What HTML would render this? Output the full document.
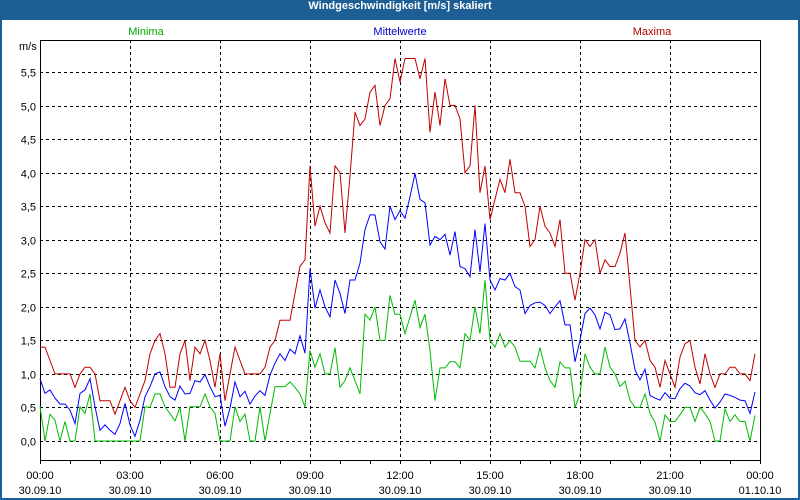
<!DOCTYPE html>
<html><head><meta charset="utf-8"><style>
html,body{margin:0;padding:0;background:#fff}
#wrap{position:relative;width:800px;height:500px;overflow:hidden;background:#1d5f95}
#inner{position:absolute;left:2px;top:20px;width:796px;height:478px;background:#fff}
#title{position:absolute;left:0;top:0;width:800px;height:20px;line-height:20px;text-align:center;color:#fff;font:bold 11px "Liberation Sans",sans-serif}
svg{position:absolute;left:0;top:0}
text{font-family:"Liberation Sans",sans-serif;font-size:11px}
</style></head><body>
<div id="wrap">
<div id="title">Windgeschwindigkeit [m/s] skaliert</div>
<div id="inner"></div>
<svg id="chart" width="800" height="500"></svg>
</div>
<script>
const yTicks=[0,0.5,1,1.5,2,2.5,3,3.5,4,4.5,5,5.5];
const xTickTimes=["00:00","03:00","06:00","09:00","12:00","15:00","18:00","21:00","00:00"];
const xTickDates=["30.09.10","30.09.10","30.09.10","30.09.10","30.09.10","30.09.10","30.09.10","30.09.10","01.10.10"];
const maxima=[1.4,1.4,1.2,1.0,1.0,1.0,1.0,0.8,1.0,1.1,1.1,1.0,0.6,0.6,0.6,0.4,0.6,0.8,0.6,0.5,0.7,0.9,1.3,1.5,1.6,1.3,0.8,0.8,1.3,1.5,0.9,1.4,1.3,1.5,1.2,0.8,1.3,0.6,1.0,1.4,1.2,1.0,1.0,1.0,1.0,1.1,1.4,1.5,1.8,1.8,1.8,2.2,2.6,2.7,
4.1,3.2,3.5,3.25,3.1,4.1,4.0,3.1,3.95,4.9,4.7,4.8,5.2,5.3,4.7,5.0,5.1,5.7,5.35,5.7,5.7,5.7,5.4,5.7,4.6,5.2,4.7,5.4,5.0,5.0,4.8,4.0,4.1,5.0,3.7,4.1,3.3,3.6,3.9,3.7,4.2,3.7,3.7,3.5,2.9,3.0,3.5,3.2,3.1,2.9,3.3,2.5,2.5,2.1,2.5,3.0,2.9,3.0,2.5,2.7,2.6,2.6,2.8,3.1,2.3,1.5,1.4,1.5,1.2,1.1,0.8,1.2,1.0,0.8,1.25,1.45,1.5,1.1,0.85,1.3,1.0,0.8,1.0,1.0,1.1,1.1,1.0,1.0,0.9,1.3];
const mittel=[0.93,0.71,0.76,0.64,0.55,0.55,0.46,0.26,0.71,0.76,0.93,0.51,0.16,0.24,0.16,0.1,0.26,0.56,0.24,0.07,0.31,0.66,0.81,1.0,1.03,0.81,0.66,0.61,0.82,0.7,0.71,0.9,0.88,0.99,0.81,0.66,0.68,0.22,0.49,0.88,0.66,0.74,0.55,0.67,0.75,0.68,0.98,1.16,1.3,1.2,1.37,1.3,1.57,1.31,
2.57,1.98,2.25,2.0,1.85,2.4,2.2,1.9,2.4,2.4,2.65,3.15,3.37,3.37,2.97,2.86,3.5,3.3,3.43,3.32,3.64,3.99,3.6,3.55,2.92,3.05,3.0,3.08,2.77,3.12,2.6,2.57,2.45,3.15,2.52,3.24,2.4,2.25,2.42,2.4,2.5,2.3,2.25,1.9,2.02,2.06,2.07,2.02,1.9,2.0,2.09,1.73,1.73,1.18,1.5,1.9,1.98,1.88,1.67,1.92,1.88,1.66,1.67,1.82,1.46,1.06,0.91,1.07,0.68,0.64,0.61,0.72,0.64,0.63,0.78,0.86,0.82,0.72,0.69,0.75,0.61,0.49,0.58,0.7,0.68,0.65,0.61,0.6,0.41,0.73];
const minima=[0.52,0,0.4,0.31,0,0.29,0,0,0.51,0.41,0.7,0,0,0,0,0,0,0,0,0,0,0.51,0.5,0.7,0.7,0.51,0.41,0.3,0.5,0,0.51,0.51,0.51,0.7,0.51,0.41,0,0,0,0.51,0.29,0.4,0,0,0.51,0,0.41,0.81,0.81,0.81,0.88,0.8,0.7,0.51,
1.35,1.1,1.3,1.0,1.0,1.39,0.8,0.9,1.09,0.9,0.7,1.89,1.8,2.0,1.5,1.5,2.17,1.89,1.89,1.6,1.85,2.1,1.69,1.89,1.35,0.6,1.09,1.09,1.18,1.18,1.09,1.6,1.5,2.0,1.6,2.4,1.5,1.4,1.6,1.4,1.5,1.4,1.19,1.19,1.19,1.09,1.39,1.09,0.9,0.8,1.18,1.09,1.09,0.5,0.7,1.3,1.1,1.0,1.0,1.4,1.1,1.0,0.81,0.89,0.61,0.5,0.5,0.7,0.41,0.28,0,0.39,0.29,0.29,0.39,0.5,0.5,0.29,0.5,0.41,0.29,0,0,0.48,0.29,0.39,0.29,0.29,0,0.38];

const L=40,R=760,T=40,B=460;
function xIdx(i){return L+i*5;}
function xTick(k){return L+k*90;}
function yVal(v){return 441-v*67.1;}
const svg=document.getElementById('chart');
const NS='http://www.w3.org/2000/svg';
function mk(tag,attrs,parent){const e=document.createElementNS(NS,tag);for(const k in attrs)e.setAttribute(k,attrs[k]);(parent||svg).appendChild(e);return e;}

const grid=mk('g',{});


yTicks.forEach(v=>{
  const y=Math.round(yVal(v))+0.5;
  const l=mk('line',{x1:L,x2:R,y1:y,y2:y,stroke:'#000','stroke-width':1,'stroke-dasharray':'3,3'},grid);
  
  
  const t=mk('text',{x:36,y:y+4,'text-anchor':'end',fill:'#000'});
  t.textContent=v.toFixed(1).replace('.',',');
  
  
});
for(let k=1;k<8;k++){
  const x=xTick(k)+0.5;
  const l=mk('line',{x1:x,x2:x,y1:T,y2:B,stroke:'#000','stroke-width':1,'stroke-dasharray':'3,3'},grid);
  
  
}
for(let h=0;h<=24;h++){
  const x=L+h*30+0.5;
  const l=mk('line',{x1:x,x2:x,y1:B,y2:B+4,stroke:'#000'});
  
  
}
xTickTimes.forEach((s,k)=>{
  const x=xTick(k);
  const t1=mk('text',{x:x,y:479,'text-anchor':'middle'});t1.textContent=s;
  
  
  const t2=mk('text',{x:x,y:494,'text-anchor':'middle'});t2.textContent=xTickDates[k];
  
  
});
const frame=mk('path',{d:`M${L+0.5},${T+0.5}H${R+0.5}V${B+0.5}H${L+0.5}Z`,fill:'none',stroke:'#000'});


const unit=mk('text',{x:19,y:50});unit.textContent='m/s';



function series(arr,color,name){
  const p=mk('polyline',{points:arr.map((v,i)=>xIdx(i)+','+yVal(v).toFixed(1)).join(' '),fill:'none',stroke:color,'stroke-width':1});
  
  
}
series(minima,'#00bb00','series-minima');
series(mittel,'#0000ff','series-mittelwerte');
series(maxima,'#c00000','series-maxima');

[['Minima','#00aa00',146,'legend-minima'],['Mittelwerte','#0000cc',400,'legend-mittelwerte'],['Maxima','#b00000',652,'legend-maxima']].forEach(a=>{
  const t=mk('text',{x:a[2],y:35,'text-anchor':'middle',fill:a[1]});t.textContent=a[0];
  
  
});
</script>
</body></html>
